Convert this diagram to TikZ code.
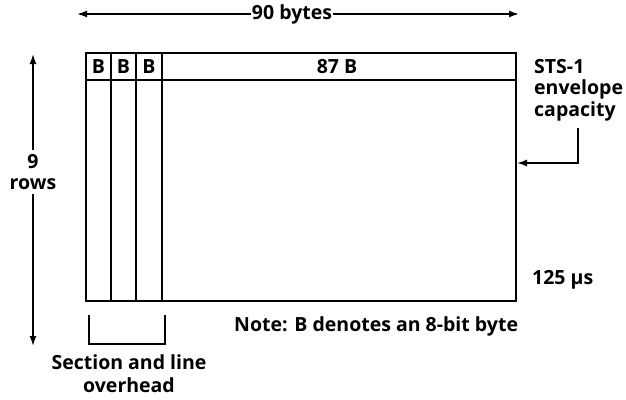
\documentclass[tikz,border=0pt]{standalone}
\usepackage{fontspec}
\setmainfont{Open Sans}
\usetikzlibrary{arrows.meta}
\begin{document}
\begin{tikzpicture}[x=1pt,y=-1pt,
  frame/.style={line width=1.6pt},
  lbl/.style={font=\fontsize{19.5}{21.5}\selectfont\bfseries, inner sep=1pt},
  arr/.style={line width=1.6pt,-{Latex[length=10pt,width=7pt]}}]
\useasboundingbox (0,0) rectangle (626,399);
% frame
\draw[frame] (86,53) rectangle (516,301);
\draw[frame] (86,80) -- (516,80);
\draw[frame] (111,53) -- (111,301);
\draw[frame] (136,53) -- (136,301);
\draw[frame] (162,53) -- (162,301);
\node[lbl] (b1) at (98.5,67) {B};
\node[lbl] (b2) at (123.5,67) {B};
\node[lbl] (b3) at (149,67) {B};
\node[lbl] (b87) at (337,67) {87 B};
% top arrow
\node[lbl] (top) at (292,14) {90 bytes};
\coordinate (tl) at (77,14);
\coordinate (tr) at (519,14);
\draw[arr] (top.west) -- (tl);
\draw[arr] (top.east) -- (tr);
% left arrow
\node[lbl,align=center,inner sep=4pt] (rows) at (33,172) {9\\rows};
\coordinate (lt) at (33,54);
\coordinate (lb) at (33,346);
\draw[arr] (rows.north) -- (lt);
\draw[arr] (rows.south) -- (lb);
% bracket
\coordinate (bl) at (89,315);
\coordinate (br) at (165,315);
\draw[frame] (bl) -- (89,344) -- (165,344) -- (br);
\node[lbl,align=center,font=\fontsize{19.5}{23}\selectfont\bfseries] (sec) at (129,374) {Section and line\\overhead};
% note
\node[lbl,anchor=west] (note) at (233,326) {Note: B denotes an 8-bit byte};
\node[lbl,anchor=west] (us) at (531,280) {125 μs};
% STS-1
\node[lbl,anchor=north west,align=left] (sts) at (533,58) {STS-1\\envelope\\capacity};
\coordinate (tip) at (517,163);
\draw[arr] (578,128) -- (578,163) -- (tip);
\end{tikzpicture}
\end{document}
